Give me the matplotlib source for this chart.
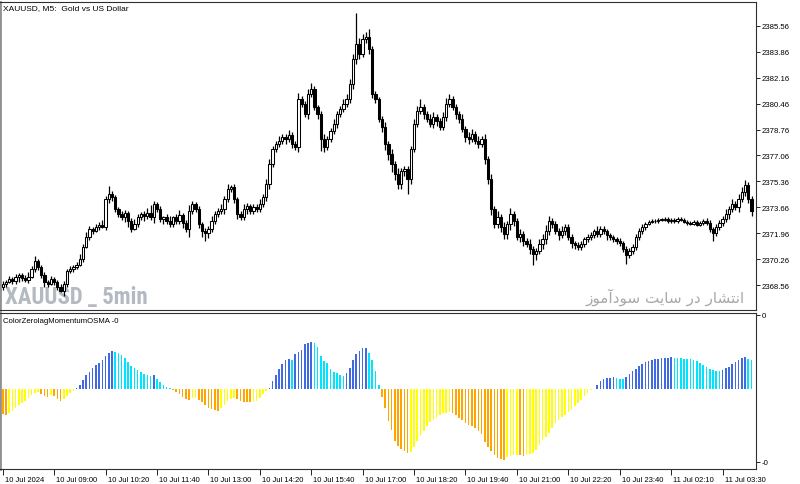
import matplotlib.pyplot as plt
import matplotlib.transforms as mtransforms

plt.rcParams['font.family'] = ['Liberation Sans', 'DejaVu Sans']

# XAUUSD M5 closes (one per bar)
closes = [
    2368.63, 2368.76, 2368.96, 2368.83, 2369.09, 2369.22, 2369.02, 2368.89, 2369.09, 2369.61,
    2370.14, 2369.74, 2369.22, 2368.76, 2368.63, 2368.96, 2368.76, 2368.43, 2368.17, 2368.63,
    2369.48, 2369.61, 2369.74, 2369.88, 2370.27, 2371.06, 2371.71, 2372.24, 2372.11, 2372.37,
    2372.50, 2372.37, 2374.21, 2374.53, 2374.34, 2373.55, 2373.22, 2373.02, 2373.29, 2372.76,
    2372.24, 2372.57, 2373.02, 2373.22, 2373.09, 2373.29, 2373.02, 2373.88, 2373.55, 2372.89,
    2373.02, 2372.76, 2372.57, 2373.02, 2372.76, 2373.16, 2372.63, 2372.24, 2373.42, 2373.88,
    2373.55, 2372.57, 2372.11, 2371.97, 2372.24, 2372.76, 2373.22, 2373.42, 2373.55, 2374.21,
    2374.86, 2374.99, 2374.21, 2373.22, 2373.02, 2373.55, 2373.75, 2373.42, 2373.68, 2373.55,
    2373.88, 2374.34, 2375.19, 2376.50, 2377.49, 2377.82, 2378.01, 2378.27, 2378.14, 2378.41,
    2377.82, 2377.62, 2380.77, 2380.44, 2379.78, 2381.10, 2381.42, 2380.24, 2379.78, 2378.14,
    2377.62, 2378.14, 2378.67, 2379.13, 2379.78, 2380.11, 2380.44, 2380.77, 2381.75, 2383.39,
    2384.38, 2383.72, 2384.71, 2384.84, 2384.05, 2381.10, 2380.77, 2379.46, 2378.93, 2377.82,
    2377.16, 2376.50, 2375.85, 2375.19, 2376.04, 2376.17, 2375.52, 2377.49, 2379.13, 2379.98,
    2380.24, 2379.78, 2379.46, 2379.13, 2379.59, 2379.32, 2378.93, 2379.59, 2380.44, 2380.77,
    2380.24, 2379.78, 2379.46, 2378.80, 2378.27, 2378.14, 2378.47, 2378.01, 2377.82, 2378.14,
    2376.83, 2375.52, 2373.55, 2372.57, 2373.02, 2372.37, 2371.91, 2372.57, 2373.22, 2372.76,
    2371.71, 2371.91, 2371.45, 2371.25, 2370.92, 2370.60, 2370.79, 2371.25, 2371.58, 2372.11,
    2372.76, 2372.57, 2372.11, 2371.84, 2372.11, 2372.37, 2371.71, 2371.32, 2371.19, 2371.06,
    2371.25, 2371.58, 2371.71, 2371.84, 2372.11, 2371.91, 2372.24, 2372.11, 2371.84, 2371.71,
    2371.58, 2371.45, 2371.32, 2370.92, 2370.53, 2370.79, 2371.06, 2371.71, 2372.11, 2372.37,
    2372.57, 2372.70, 2372.76, 2372.76, 2372.83, 2372.83, 2372.89, 2372.76, 2372.83, 2372.76,
    2372.89, 2372.83, 2372.70, 2372.63, 2372.57, 2372.70, 2372.50, 2372.63, 2372.76, 2372.63,
    2372.24, 2371.97, 2372.37, 2372.63, 2372.89, 2373.22, 2373.55, 2373.88, 2373.68, 2374.21,
    2374.67, 2375.12, 2374.21, 2373.42,
]
first_open = 2368.45

# wick lengths above / below the body, tenths of a dollar
upper_wick = [
    2, 1, 2, 1, 2, 1, 1, 2, 3, 2, 3, 1, 1, 2, 1, 2, 1, 1,
    2, 2, 1, 2, 1, 2, 3, 2, 3, 2, 1, 2, 2, 3, 2, 5, 2, 1,
    1, 2, 2, 1, 2, 3, 2, 1, 2, 3, 5, 2, 1, 2, 1, 2, 3, 1,
    2, 3, 1, 2, 4, 2, 1, 2, 1, 2, 2, 3, 2, 2, 3, 2, 3, 1,
    2, 1, 2, 3, 2, 1, 2, 2, 3, 2, 3, 3, 2, 2, 3, 2, 2, 3,
    2, 2, 4, 2, 2, 3, 4, 2, 1, 2, 3, 2, 2, 3, 2, 2, 3, 3,
    3, 3, 20, 4, 3, 3, 5, 2, 2, 1, 2, 3, 2, 3, 2, 4, 2, 2,
    2, 2, 3, 3, 5, 2, 2, 3, 3, 2, 2, 3, 4, 3, 2, 2, 2, 3,
    2, 3, 3, 2, 3, 2, 3, 2, 3, 2, 4, 2, 3, 2, 4, 2, 2, 3,
    2, 2, 3, 2, 2, 3, 3, 4, 3, 2, 2, 2, 3, 2, 2, 2, 1, 2,
    2, 1, 2, 2, 1, 3, 2, 2, 1, 1, 1, 1, 2, 1, 2, 2, 2, 2,
    2, 2, 1, 1, 1, 1, 1, 1, 1, 1, 1, 1, 1, 1, 1, 1, 1, 1,
    1, 1, 1, 2, 2, 1, 2, 2, 2, 3, 2, 3, 2, 3, 3, 3, 2, 2,
]
lower_wick = [
    2, 2, 1, 2, 2, 3, 2, 1, 2, 1, 2, 2, 2, 3, 2, 1, 2, 2,
    1, 3, 2, 1, 2, 1, 1, 2, 1, 2, 2, 1, 2, 1, 2, 3, 3, 2,
    2, 2, 3, 4, 2, 1, 2, 2, 3, 2, 2, 4, 2, 2, 3, 2, 2, 2,
    2, 2, 3, 2, 5, 2, 2, 3, 4, 5, 3, 2, 2, 2, 2, 3, 2, 2,
    3, 3, 2, 2, 3, 2, 2, 2, 2, 2, 3, 3, 2, 2, 2, 2, 3, 2,
    3, 2, 3, 2, 2, 3, 2, 2, 3, 8, 3, 2, 2, 2, 3, 2, 2, 2,
    3, 3, 3, 3, 2, 3, 3, 3, 3, 2, 3, 4, 4, 5, 4, 3, 3, 3,
    10, 3, 2, 2, 2, 3, 2, 2, 3, 3, 2, 2, 3, 2, 2, 3, 3, 2,
    3, 3, 2, 2, 3, 2, 3, 3, 4, 3, 3, 3, 3, 3, 4, 3, 2, 3,
    3, 2, 3, 7, 4, 2, 3, 3, 3, 3, 2, 3, 2, 3, 2, 3, 3, 2,
    2, 2, 2, 2, 2, 2, 2, 2, 3, 2, 2, 2, 2, 2, 6, 2, 2, 2,
    2, 2, 2, 1, 1, 1, 1, 1, 1, 1, 1, 1, 1, 1, 1, 1, 1, 1,
    1, 1, 1, 1, 2, 5, 2, 2, 2, 2, 3, 2, 2, 3, 2, 3, 3, 3,
]

# ColorZerolagMomentumOSMA histogram (arbitrary units)
osma = [
    -25, -26, -24, -22, -19, -16, -14, -12, -9, -6, -4, -3, -5, -7, -7.5, -6, -7, -10, -12, -10,
    -7, -4, -2,
    1, 4, 9, 14, 17, 21, 24, 26, 29, 33, 36, 38, 37, 36, 34, 31, 27, 23, 21, 19, 17, 15, 14.5,
    13, 14, 10, 7, 4, 2, 1,
    -1, -3, -5, -8, -10, -10.5, -9, -9, -11, -13, -16, -19, -20, -21, -21.5, -19, -16, -12, -10,
    -9, -10, -12, -12.5, -13, -13.2, -13, -12, -9, -5, -2,
    1, 8, 14, 20, 25, 29, 30, 29.5, 35, 37, 39, 45, 46, 47, 46.5, 42, 33, 28, 26, 20, 17, 16,
    14, 13.5, 16, 21, 29, 35, 38, 41, 41.5, 36, 29, 18, 4,
    -8, -19, -32, -41, -52, -57, -60, -62, -64, -63, -58, -52, -47, -42, -37, -33, -31, -29,
    -26, -24, -23.5, -23, -24, -26, -29, -31, -34, -36, -37, -39, -42, -45, -53, -58, -62, -66,
    -69, -70, -70.5, -68, -67, -66, -65.5, -66, -67, -66, -65, -64, -61, -56, -51, -48, -44,
    -39, -34, -31, -28, -26, -23, -21, -17, -14, -11, -7, -4, -1,
    0.5, 4, 8, 10, 11, 11.5, 11.8, 11, 10.5, 10.2, 12, 15, 18, 20, 23, 25, 27, 28, 29, 30,
    30.3, 31, 31.2, 31.5, 31.6, 31.4, 31, 30.8, 30.3, 30, 29.7, 29, 28, 26, 24, 22, 20, 19, 18,
    17.8, 19, 21, 22, 25, 27, 29, 31, 32, 30, 29,
]

price_ticks = [2368.56, 2370.26, 2371.96, 2373.66, 2375.36, 2377.06,
               2378.76, 2380.46, 2382.16, 2383.86, 2385.56]
time_labels = ["10 Jul 2024", "10 Jul 09:00", "10 Jul 10:20", "10 Jul 11:40", "10 Jul 13:00",
               "10 Jul 14:20", "10 Jul 15:40", "10 Jul 17:00", "10 Jul 18:20", "10 Jul 19:40",
               "10 Jul 21:00", "10 Jul 22:20", "10 Jul 23:40", "11 Jul 02:10", "11 Jul 03:30"]

# "انتشار در سایت سودآموز" written with presentation forms in visual order
# (matplotlib does no arabic shaping / bidi)
site_note = "\uFEAF\uFEEE\uFEE3\uFE81\uFEA9\uFEEE\uFEB3 \uFE96\uFEF3\uFE8E\uFEB3 \uFEAD\uFEA9 \uFEAD\uFE8E\uFEB8\uFE98\uFEE7\uFE8D"

#%%
n = len(closes)
x = list(range(n))
opens = [first_open] + closes[:-1]
highs = [max(o, c) + u / 10 for o, c, u in zip(opens, closes, upper_wick)]
lows = [min(o, c) - d / 10 for o, c, d in zip(opens, closes, lower_wick)]

fig = plt.figure(figsize=(8, 4.85), dpi=100)
W, H = 800, 485
ax = fig.add_axes([0.0, 1 - 311 / H, 756 / W, 308 / H])
ax2 = fig.add_axes([0.0, 1 - 470 / H, 756 / W, 156 / H])

xlim = (-0.84, 234.4)

# candles
ax.vlines(x, lows, highs, color="black", linewidth=0.9, zorder=2)
for i in x:
    o, c = opens[i], closes[i]
    body = max(abs(c - o), 0.03)
    if c >= o:
        ax.bar(i, body, bottom=min(o, c), width=0.72, color="white",
               edgecolor="black", linewidth=0.75, zorder=3)
    else:
        ax.bar(i, body, bottom=min(o, c), width=0.72, color="black",
               edgecolor="black", linewidth=0.75, zorder=3)

ax.set_xlim(*xlim)
ax.set_ylim(2366.92, 2387.13)
ax.yaxis.tick_right()
ax.set_yticks(price_ticks)
ax.set_yticklabels(["%.2f" % p for p in price_ticks])
ax.tick_params(axis="y", direction="out", length=3, width=0.6, pad=1, labelsize=5.6)
ax.set_xticks([])

ax.text(0.004, 0.992, "XAUUSD, M5:  Gold vs US Dollar", transform=ax.transAxes,
        ha="left", va="top", fontsize=6)
ax.text(5 / 756, 7 / 308, "XAUUSD _ 5min", transform=ax.transAxes, ha="left",
        va="baseline", fontsize=16.5, fontweight="bold", fontstretch="condensed",
        color="#b4bac2", family=["Roboto Condensed", "DejaVu Sans"], zorder=1)
ax.text(745 / 756, 14 / 308, site_note, transform=ax.transAxes, ha="right",
        va="center", fontsize=11, color="#a8a8a8", family=["DejaVu Sans"], zorder=1)

# histogram colours: above zero rising/falling, below zero falling/rising
colors = []
for i, v in enumerate(osma):
    prev = osma[i - 1] if i > 0 else v + 1
    if v >= 0:
        colors.append("#4169E1" if v >= prev else "#00E5FF")
    else:
        colors.append("#FFA500" if v < prev else "#FFFF00")
ax2.bar(x, osma, width=0.5, color=colors, linewidth=0)
ax2.set_xlim(*xlim)
ax2.set_ylim(-80, 76)
ax2.yaxis.tick_right()
ax2.set_yticks([74, -73])
ax2.set_yticklabels(["0", "-0"])
ax2.tick_params(axis="y", direction="out", length=3, width=0.6, pad=1, labelsize=5.6)
ax2.set_xticks(list(range(0, n, 16))[:len(time_labels)])
ax2.set_xticklabels(time_labels, ha="left")
ax2.tick_params(axis="x", direction="out", length=4, width=0.6, pad=1, labelsize=5.5)
shift = mtransforms.ScaledTranslation(2 / 100, 0, fig.dpi_scale_trans)
for lab in ax2.get_xticklabels():
    lab.set_transform(lab.get_transform() + shift)
ax2.text(0.004, 0.975, "ColorZerolagMomentumOSMA -0", transform=ax2.transAxes,
         ha="left", va="top", fontsize=5.6)

for a in (ax, ax2):
    for s in a.spines.values():
        s.set_color("#303030")
        s.set_linewidth(0.8)
    a.spines["left"].set_color("#909090")
    a.spines["left"].set_linewidth(2)

fig.savefig("out.png", dpi=100)
